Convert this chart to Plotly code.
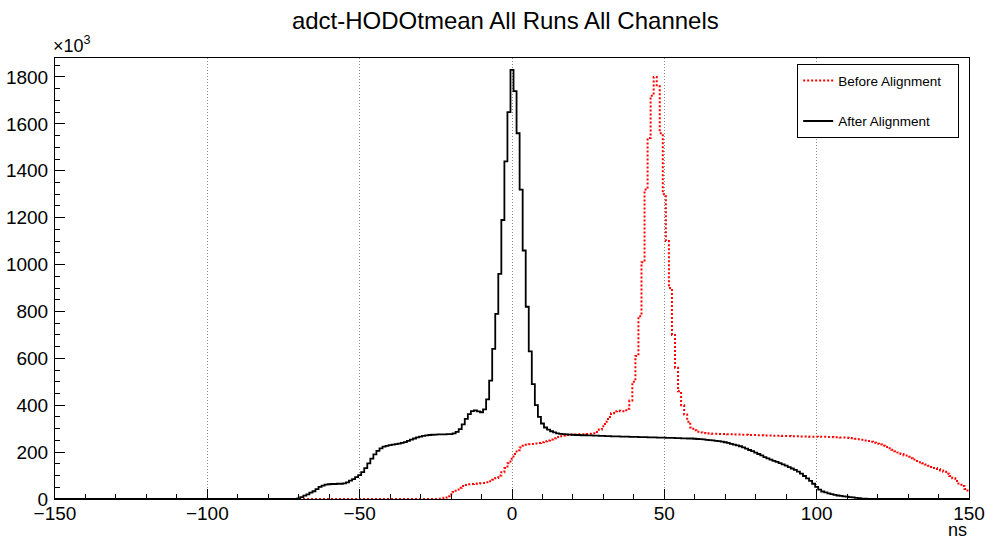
import plotly.graph_objects as go

# ---- data (counts in units of 10^3 per 1-ns bin, bin centres in ns) ----
bin_centres = list(range(-150, 151))

after_first_bin = -70
after_counts = [
    3, 8, 14, 20, 27, 33, 42, 52, 57, 61,
    63, 64, 64, 65, 65, 67, 71, 78, 85, 93,
    102, 115, 132, 152, 172, 190, 205, 216, 223, 227,
    230, 232, 234, 236, 239, 243, 248, 253, 258, 263,
    266, 269, 271, 273, 274, 275, 276, 276, 276, 277,
    277, 280, 286, 298, 318, 342, 362, 375, 378, 374,
    370, 382, 425, 505, 640, 790, 960, 1190, 1440, 1650,
    1830, 1740, 1560, 1320, 1060, 820, 630, 490, 400, 350,
    322, 305, 296, 289, 284, 280, 278, 277, 276, 275,
    274, 273, 273, 272, 272, 271, 271, 270, 270, 269,
    269, 268, 268, 267, 267, 267, 266, 266, 266, 265,
    265, 265, 264, 264, 264, 263, 263, 263, 262, 262,
    262, 261, 261, 261, 260, 260, 259, 259, 258, 258,
    257, 256, 255, 254, 252, 251, 250, 248, 247, 245,
    242, 239, 235, 232, 229, 225, 220, 215, 209, 204,
    198, 192, 186, 179, 173, 168, 163, 158, 153, 148,
    142, 136, 130, 124, 117, 108, 98, 88, 77, 65,
    52, 40, 32, 28, 24, 21, 18, 15, 13, 11,
    10, 8, 7, 5, 4, 2, 1,
]

before_first_bin = -23
before_counts = [
    2, 5, 12, 20, 30, 40, 48, 55, 60, 63,
    64, 65, 66, 67, 68, 71, 76, 82, 90, 100,
    114, 132, 152, 172, 192, 208, 220, 227, 231, 233,
    235, 237, 239, 242, 246, 250, 254, 259, 264, 268,
    271, 273, 274, 275, 275, 276, 276, 276, 277, 278,
    280, 286, 296, 310, 330, 350, 366, 374, 376, 374,
    374, 385, 420, 500, 610, 780, 1010, 1320, 1540, 1720,
    1800, 1760, 1560, 1300, 1100, 900, 700, 560, 460, 400,
    360, 330, 305, 293, 287, 284, 282, 280, 279, 278,
    278, 277, 277, 277, 276, 276, 275, 275, 275, 274,
    274, 273, 273, 273, 272, 272, 271, 271, 271, 270,
    270, 270, 269, 269, 269, 268, 268, 268, 267, 267,
    267, 266, 266, 266, 265, 265, 265, 264, 264, 263,
    263, 262, 262, 261, 260, 259, 257, 255, 253, 250,
    247, 244, 240, 236, 232, 227, 222, 216, 210, 204,
    198, 192, 186, 180, 174, 168, 162, 157, 152, 147,
    142, 137, 132, 128, 122, 116, 108, 98, 88, 77,
    66, 55, 43, 31,
]

x_tick_vals = [-150, -100, -50, 0, 50, 100, 150]
y_tick_vals = [0, 200, 400, 600, 800, 1000, 1200, 1400, 1600, 1800]


def full_hist(first_bin, counts):
    lead = first_bin - bin_centres[0]
    trail = len(bin_centres) - lead - len(counts)
    return [0] * lead + counts + [0] * trail


after_full = full_hist(after_first_bin, after_counts)
before_full = full_hist(before_first_bin, before_counts)

FONT = "Liberation Sans, Arial, Helvetica, sans-serif"
PAD = "\u00a0\u00a0\u00a0"

fig = go.Figure()
fig.add_trace(go.Scatter(
    x=bin_centres, y=before_full, mode="lines", line_shape="hvh",
    name="Before Alignment" + PAD, legendgroup="a",
    line=dict(color="#ff0000", width=2, dash="2px,2px"),
))
fig.add_trace(go.Scatter(
    x=bin_centres, y=after_full, mode="lines", line_shape="hvh",
    name="After Alignment" + PAD, legendgroup="b",
    line=dict(color="#000000", width=1.8),
))

fig.update_layout(
    width=987, height=540,
    margin=dict(l=55, r=18, t=58, b=41, autoexpand=False),
    paper_bgcolor="white", plot_bgcolor="white",
    font=dict(family=FONT, color="black", size=19),
    title=dict(text="adct-HODOtmean All Runs All Channels",
               x=0.512, xanchor="center", y=0.962, yanchor="middle",
               font=dict(family=FONT, size=24, color="black")),
    showlegend=True,
    legend=dict(x=0.812, xanchor="left", y=0.986, yanchor="top",
                bgcolor="white", bordercolor="black", borderwidth=1,
                font=dict(family=FONT, size=13.5, color="black"),
                traceorder="grouped", tracegroupgap=20, itemwidth=30),
    xaxis=dict(range=[-150, 150], tickvals=x_tick_vals, automargin=False,
               ticks="inside", ticklen=10, tickcolor="black", tickwidth=1,
               showline=True, mirror=True, linecolor="black", linewidth=1,
               showgrid=True, gridcolor="#8a8a8a", griddash="1px,2px", gridwidth=1,
               zeroline=False, ticklabelstandoff=-3,
               minor=dict(dtick=10, ticks="inside", ticklen=5,
                          tickcolor="black", showgrid=False)),
    yaxis=dict(range=[0, 1881], tickvals=y_tick_vals, automargin=False,
               ticks="inside", ticklen=10, tickcolor="black", tickwidth=1,
               showline=True, mirror=True, linecolor="black", linewidth=1,
               showgrid=False, zeroline=False, ticklabelstandoff=2,
               minor=dict(dtick=50, ticks="inside", ticklen=5,
                          tickcolor="black", showgrid=False)),
    annotations=[
        dict(text="×10<sup>3</sup>", xref="paper", yref="paper",
             x=-0.004, y=1.0, xanchor="left", yanchor="bottom",
             showarrow=False, font=dict(family=FONT, size=18, color="black")),
        dict(text="ns", xref="paper", yref="paper",
             x=1.0, y=0.0, xanchor="right", yanchor="top", yshift=-19,
             showarrow=False, font=dict(family=FONT, size=18, color="black")),
    ],
)

fig.write_html(
    "out.html",
    config={"displayModeBar": False},
    post_script="document.body.style.margin='0';document.body.style.padding='0';"
                "document.body.style.overflow='hidden';",
)
